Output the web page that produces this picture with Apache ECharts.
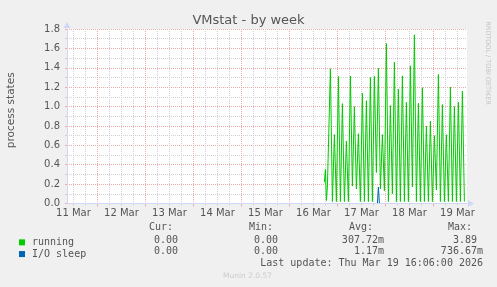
<!DOCTYPE html>
<html><head><meta charset="utf-8">
<script src="https://cdn.jsdelivr.net/npm/echarts@6/dist/echarts.min.js"></script>
<style>html,body{margin:0;padding:0;background:#F0F0F0;}#c{width:497px;height:287px;}</style>
</head><body><div id="c"></div>
<script>
// ---- data (hours since 11 Mar 00:00) ----
const runHours = [137.5,138,138.5,139,139.5,140.5,141.5,142.5,143.5,144.5,145.5,146.5,147.5,148.5,149.5,150.5,151.5,152.5,153.5,154.5,155.5,156.5,157.5,158.5,159.5,160.5,161.5,162.5,163.5,164.5,165.5,166.5,167.5,168.5,169.5,170.5,171.5,172.5,173.5,174.5,175.5,176.5,177.5,178.5,179.5,180.5,181.5,182.5,183.5,184.5,185.5,186.5,187.5,188.5,189.5,190.5,191.5,192.5,193.5,194.5,195.5,196.5,197.5,198.5,199.5,200.5,201.5,202.5,203.5,204.5,205.5,206.5,207.5];
const running = [0.22,0.35,0.03,0.17,0.15,1.39,0.02,0.71,0.02,1.31,0.02,1.03,0.02,0.645,0.02,1.315,0.18,1.00,0.15,0.72,0.02,1.14,0.02,1.06,0.02,1.30,0.02,1.31,0.32,1.395,0.15,0.71,0.13,1.65,0.02,1.01,0.10,1.457,0.02,1.18,0.02,1.316,0.02,1.044,0.02,1.42,0.17,1.74,0.02,1.034,0.02,1.195,0.02,0.80,0.02,0.85,0.02,0.70,0.14,1.33,0.02,1.02,0.02,0.71,0.02,1.20,0.02,1.00,0.02,1.044,0.02,1.16,0.02];
const ioHours = [137.5,164,164.5,165,207.5];
const ioSleep = [0,0,0.17,0,0];

const dayLabels = ['11 Mar','12 Mar','13 Mar','14 Mar','15 Mar','16 Mar','17 Mar','18 Mar','19 Mar'];
const labelHours = [12,36,60,84,108,132,156,180,204];
const midnightHours = [24,48,72,96,120,144,168,192];
const yMajor = [0,0.2,0.4,0.6,0.8,1.0,1.2,1.4,1.6,1.8];
const yMinor = [0.1,0.3,0.5,0.7,0.9,1.1,1.3,1.5,1.7];

const seriesNames = ['running','I/O sleep'];
const seriesColors = ['#00CC00','#0066B3'];
const statHeads = ['Cur:','Min:','Avg:','Max:'];
const statRows = [
  ['0.00 ','0.00 ','307.72m','3.89 '],
  ['0.00 ','0.00 ','1.17m','736.67m']
];
const lastUpdate = 'Last update: Thu Mar 19 16:06:00 2026';

// ---- layout ----
const X_MIN = 8.8, X_MAX = 208.8;
const minorX = [];
[0].concat(midnightHours).forEach(m => [6,12,18].forEach(o => { const v = m + o; if (v > X_MIN && v < X_MAX) minorX.push(v); }));

const AX = '#CFD6F8', GRID = '#d0d0d0', MGRID = '#efaaaa', TXT = '#555555';
const sans = 'DejaVu Sans', mono = 'DejaVu Sans Mono';

const hide = {show:false};
function xAx(extra){ return Object.assign({type:'value', min:X_MIN, max:X_MAX, position:'bottom', axisLine:hide, axisLabel:hide, axisTick:hide, splitLine:hide}, extra); }
function yAx(extra){ return Object.assign({type:'value', min:0, max:1.8, position:'left', axisLine:hide, axisLabel:hide, axisTick:hide, splitLine:hide}, extra); }

const chart = echarts.init(document.getElementById('c'), null, {renderer:'canvas'});
const graphics = [];
const colRight = [184, 284, 384, 483];
statHeads.forEach((h,i) => graphics.push({type:'text', x: colRight[i] - 35, y: 227.7, style:{text:h, font:'10px "'+mono+'"', fill:TXT, textAlign:'left', textVerticalAlign:'middle'}}));
statRows.forEach((row,r) => row.forEach((v,i) => graphics.push({type:'text', x: colRight[i], y: 240 + r*11.7, style:{text:v, font:'10px "'+mono+'"', fill:TXT, textAlign:'right', textVerticalAlign:'middle'}})));
graphics.push({type:'text', x:483, y:263.3, style:{text:lastUpdate, font:'10px "'+mono+'"', fill:TXT, textAlign:'right', textVerticalAlign:'middle'}});
graphics.push({type:'text', x:247.5, y:276.5, style:{text:'Munin 2.0.57', font:'7.5px "'+sans+'"', fill:'#cccccc', textAlign:'center', textVerticalAlign:'middle'}});
graphics.push({type:'text', x:488, y:63, rotation:-Math.PI/2, style:{text:'RRDTOOL / TOBI OETIKER', font:'6.5px "'+sans+'"', fill:'#c4c4c4', textAlign:'center', textVerticalAlign:'middle'}});

chart.setOption({
  animation:false,
  backgroundColor:'#F0F0F0',
  title:{text:'VMstat - by week', left:'center', top:9, textStyle:{fontFamily:sans, fontSize:13, fontWeight:'normal', color:TXT}},
  legend:{show:true, orient:'vertical', left:14, top:231.5, itemWidth:6, itemHeight:6, itemGap:0, icon:'rect', data:seriesNames,
    textStyle:{fontFamily:mono, fontSize:10, color:TXT, lineHeight:11.7, padding:[0,0,0,2]}},
  grid:{left:67, right:30, top:29, bottom:83.5, show:true, backgroundColor:'#FFFFFF', borderWidth:0, containLabel:false, outerBoundsMode:'none'},
  xAxis:[
    xAx({axisTick:{show:true, customValues:minorX, length:2, lineStyle:{color:GRID}}, splitLine:{show:true, lineStyle:{color:GRID, type:[1,1], width:1}}}),
    xAx({axisTick:{show:true, customValues:midnightHours, length:3, lineStyle:{color:MGRID}}, splitLine:{show:true, lineStyle:{color:MGRID, type:[1,1], width:1}}}),
    xAx({z:10, axisLine:{show:true, lineStyle:{color:AX, width:1}, symbol:['none','triangle'], symbolSize:[7,6], symbolOffset:[0,4]},
      axisLabel:{show:true, customValues:labelHours, margin:5, fontFamily:sans, fontSize:10, color:TXT,
        formatter:v => dayLabels[labelHours.indexOf(Math.round(v))] || ''}})
  ],
  yAxis:[
    yAx({axisTick:{show:true, customValues:yMinor, length:2, lineStyle:{color:GRID}}, splitLine:{show:true, lineStyle:{color:GRID, type:[1,1], width:1}}}),
    yAx({axisTick:{show:true, customValues:yMajor, length:2, lineStyle:{color:MGRID}}, splitLine:{show:true, lineStyle:{color:MGRID, type:[1,1], width:1}},
      axisLabel:{show:true, customValues:yMajor, margin:7, fontFamily:sans, fontSize:10, color:TXT, formatter:v => v.toFixed(1)},
      name:'process states', nameLocation:'middle', nameRotate:90, nameGap:50, nameTextStyle:{fontFamily:sans, fontSize:10.5, color:TXT, padding:[0,0,0,12]}}),
    yAx({z:10, axisLine:{show:true, lineStyle:{color:AX, width:1}, symbol:['none','triangle'], symbolSize:[7,6], symbolOffset:[0,4]}})
  ],
  series:[
    {name:seriesNames[0], type:'line', xAxisIndex:0, yAxisIndex:0, showSymbol:false, symbol:'none', color:seriesColors[0],
      lineStyle:{color:seriesColors[0], width:1}, data: runHours.map((h,i) => [h, running[i]]), z:3},
    {name:seriesNames[1], type:'line', xAxisIndex:0, yAxisIndex:0, showSymbol:false, symbol:'none', color:seriesColors[1],
      lineStyle:{color:seriesColors[1], width:1}, data: ioHours.map((h,i) => [h, ioSleep[i]]), z:4}
  ],
  graphic: graphics
});
</script></body></html>
